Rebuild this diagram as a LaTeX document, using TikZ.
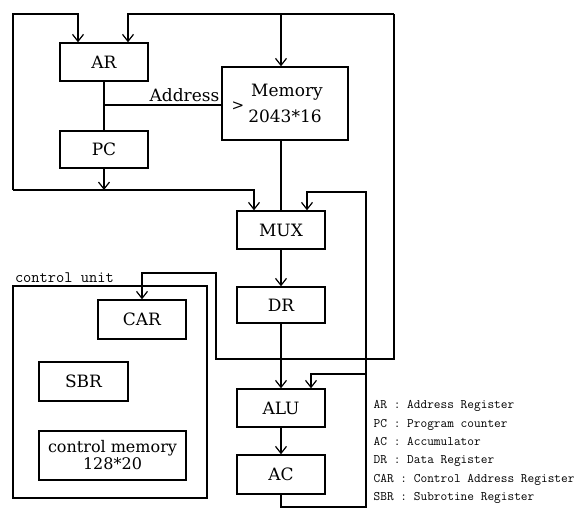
\documentclass[tikz,border=0pt]{standalone}
\usepackage{fontspec}
\setmainfont{DejaVu Serif}
\setmonofont{Latin Modern Mono}
\usepackage{tikz}
\usetikzlibrary{arrows.meta}

\begin{document}
\begin{tikzpicture}[x=1pt,y=-1pt,line width=1.4pt,
    reg/.style={draw,rectangle,inner sep=0pt,minimum width=88pt,minimum height=38pt,font=\fontsize{17}{20}\selectfont},
    >={Straight Barb[length=7pt,width=11pt,line width=1.2pt]}]
    \useasboundingbox (0,0) rectangle (581,512);
    % registers and memory
    \node[reg] (AR) at (104,62) {AR};
    \node[reg,minimum height=37pt] (PC) at (104,149.5) {PC};
    \node[reg,minimum width=126pt,minimum height=73pt,align=center] (Memory) at (285,103.5) {\hspace*{4pt}Memory\\[6pt]2043*16};
    \node[anchor=west,inner sep=0pt,font=\fontsize{15}{15}\selectfont] (clk) at (231,106) {>};
    \node[reg] (MUX) at (281,230) {MUX};
    \node[reg,minimum height=36pt] (DR) at (281,305) {DR};
    \node[reg] (ALU) at (281,408) {ALU};
    \node[reg,minimum height=39pt] (AC) at (281,474.5) {AC};
    % control unit
    \node[draw,rectangle,minimum width=194pt,minimum height=212pt] (cu) at (110,392) {};
    \node[anchor=south west,inner sep=2pt,font=\ttfamily\fontsize{16}{18}\selectfont] (culbl) at (cu.north west) {control unit};
    \node[reg,minimum height=39pt] (CAR) at (142,319.5) {CAR};
    \node[reg,minimum width=89pt,minimum height=39pt] (SBR) at (83.5,381.5) {SBR};
    \node[reg,minimum width=147pt,minimum height=49pt,align=center,font=\fontsize{16}{17}\selectfont] (cm) at (112.5,455.5) {control memory\\128*20};
    % wiring points
    \coordinate (tl) at (13,14);
    \coordinate (bus) at (13,190);
    \coordinate (tr) at (394,14);
    \coordinate (cr) at (394,359);
    \coordinate (cl) at (216,359);
    \coordinate (cu1) at (216,273);
    \coordinate (addr) at (104,105);
    \coordinate (rt) at (366,192);
    \coordinate (rm) at (366,374);
    \coordinate (br) at (366,507);
    % connections
    \draw (AR) -- (PC);
    \draw (addr) -- (Memory.west |- addr);
    \node[anchor=base east,inner sep=0pt,font=\fontsize{17}{20}\selectfont] (addrlbl) at (220,101) {Address};
    \draw[->] (PC) -- (PC.south |- bus);
    \draw[->] (bus) -| ([xshift=-27]MUX.north);
    \draw[->] (bus) -- (tl) -| ([xshift=-26]AR.north);
    \draw[->] (tr) -| ([xshift=24]AR.north);
    \draw[->] (MUX.north |- tr) -- (MUX.north |- Memory.north);
    \draw (Memory.south -| MUX.north) -- (MUX.north);
    \draw[->] (tr) -- (cr) -- (cl) -- (cu1) -| (CAR.north);
    \draw[->] (MUX) -- (DR);
    \draw[->] (DR) -- (ALU);
    \draw[->] (ALU) -- (AC);
    \draw[->] (AC.south) |- (br) -- (rt) -| ([xshift=26]MUX.north);
    \draw[->] (rm) -| ([xshift=30]ALU.north);
    % legend
    \node[anchor=north west,align=left,inner sep=0pt,font=\ttfamily\fontsize{13}{18.3}\selectfont] (key) at (373,400)
        {AR : Address Register\\PC : Program counter\\AC : Accumulator\\DR : Data Register\\CAR : Control Address Register\\SBR : Subrotine Register};
\end{tikzpicture}
\end{document}
